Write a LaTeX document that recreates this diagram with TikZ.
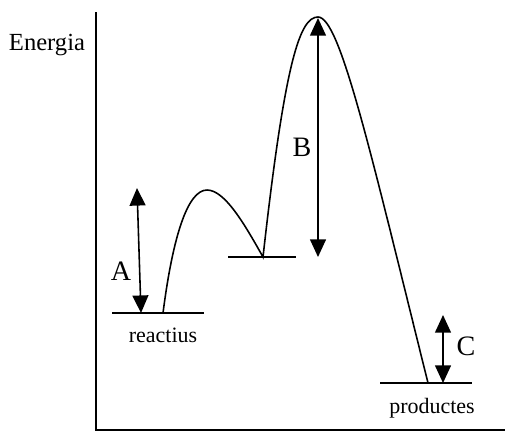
\documentclass[tikz,border=0pt]{standalone}
\usepackage{fontspec}
\setmainfont{Liberation Serif}
\usetikzlibrary{arrows.meta}

\tikzset{
  level/.style={line width=0.9pt},
  gap/.style={line width=0.9pt,{Triangle[width=9pt,length=10pt]}-{Triangle[width=9pt,length=10pt]}},
  lab/.style={font=\fontsize{14}{16}\selectfont},
  sublab/.style={font=\fontsize{12.5}{15}\selectfont},
  letter/.style={font=\fontsize{16}{18}\selectfont}
}

\begin{document}
\begin{tikzpicture}[x=0.02cm,y=-0.02cm]
                      \useasboundingbox (0,0) rectangle (509,434);
                      % axes
                      \draw[line width=1pt] (96,12)--(96,430)--(505,430);
                      \node[lab] (energia) at (47,45) {Energia};
                      % levels
                      \coordinate (r1) at (112,313);
                      \coordinate (r2) at (204,313);
                      \coordinate (i1) at (228,257);
                      \coordinate (i2) at (296,257);
                      \coordinate (p1) at (380,383);
                      \coordinate (p2) at (472,383);
                      \draw[level] (r1)--(r2);
                      \draw[level] (i1)--(i2);
                      \draw[level] (p1)--(p2);
                      \node[sublab] (reactius) at (163,335) {reactius};
                      \node[sublab] (productes) at (432,408) {productes};
                      % energy profile
                      \coordinate (s) at (163,313);
                      \coordinate (t1) at (207,190);
                      \coordinate (m) at (263,257);
                      \coordinate (t2) at (318,17);
                      \coordinate (e) at (428,383);
                      \draw[level] (s) .. controls (173,235) and (188,190) .. (t1)
                          .. controls (225,190) and (245,225) .. (m)
                          .. controls (285,60) and (300,17) .. (t2)
                          .. controls (340,17) and (370,150) .. (e);
                      % gaps
                      \coordinate (a1) at (137,188);
                      \coordinate (a2) at (141,313);
                      \coordinate (b1) at (318,18);
                      \coordinate (b2) at (318,257);
                      \coordinate (c1) at (443,315);
                      \coordinate (c2) at (443,383);
                      \draw[gap] (a1)--(a2);
                      \draw[gap] (b1)--(b2);
                      \draw[gap] (c1)--(c2);
                      \node[letter] (A) at (121,271) {A};
                      \node[letter] (B) at (302,147) {B};
                      \node[letter] (C) at (466,346) {C};
                  \end{tikzpicture}
\end{document}
